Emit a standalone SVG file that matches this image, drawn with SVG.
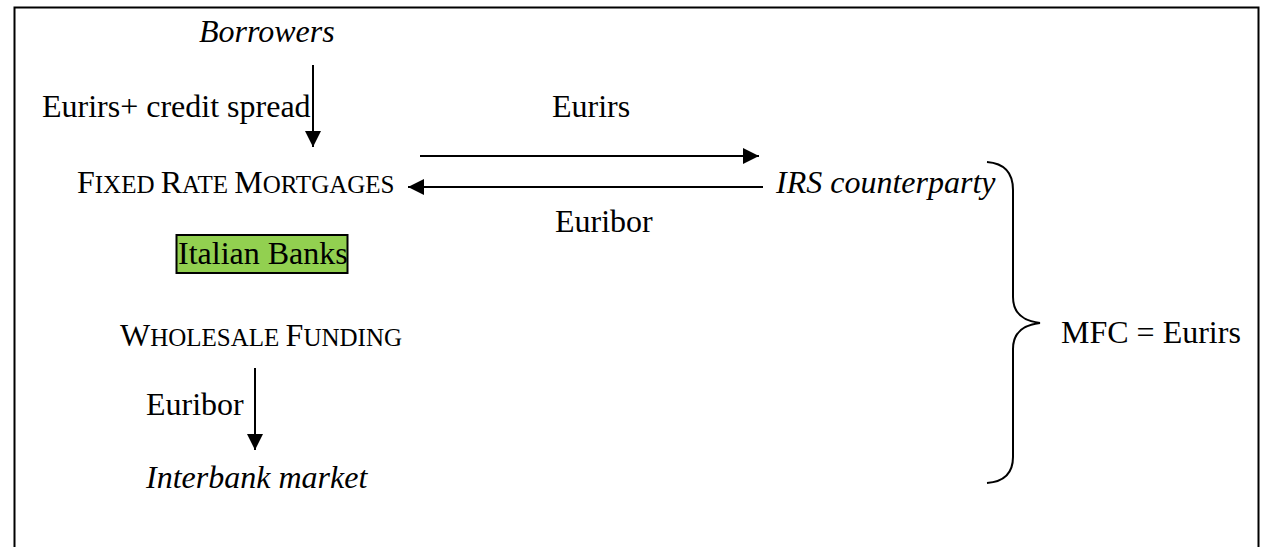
<svg xmlns="http://www.w3.org/2000/svg" width="1261" height="547" viewBox="0 0 1261 547">
<style>
text{font-family:"Liberation Serif","Times New Roman",serif;font-size:32px;fill:#000}
.it{font-style:italic}
.sc{font-size:25px}
.ln{stroke:#000;stroke-width:2;fill:none}
</style>
<defs>
<marker id="ah" viewBox="0 0 16 16" refX="16" refY="8" markerWidth="16" markerHeight="16" markerUnits="userSpaceOnUse" orient="auto">
<path d="M0,0 L16,8 L0,16 Z" fill="#000"/>
</marker>
</defs>
<rect x="14.5" y="7.5" width="1244" height="560" fill="#fff" stroke="#000" stroke-width="2"/>
<g id="borrowers"><text class="it" x="199" y="42">Borrowers</text></g>
<g id="fixed-rate-mortgages"><text x="77" y="193">F<tspan class="sc">IXED </tspan>R<tspan class="sc">ATE </tspan>M<tspan class="sc">ORTGAGES</tspan></text></g>
<g id="irs-counterparty"><text class="it" x="776" y="193">IRS counterparty</text></g>
<g id="italian-banks"><rect x="176.5" y="235" width="171" height="38" fill="#92D050" stroke="#000" stroke-width="2"/><text x="178" y="264">Italian Banks</text></g>
<g id="wholesale-funding"><text x="120" y="346">W<tspan class="sc">HOLESALE </tspan>F<tspan class="sc">UNDING</tspan></text></g>
<g id="interbank-market"><text class="it" x="146" y="488">Interbank market</text></g>
<g id="mfc"><text x="1061" y="343">MFC = Eurirs</text></g>
<g id="connectors">
<line class="ln" x1="313" y1="65" x2="313" y2="147" marker-end="url(#ah)"/>
<text x="42" y="117">Eurirs+ credit spread</text>
<line class="ln" x1="420" y1="156" x2="759" y2="156" marker-end="url(#ah)"/>
<text x="552" y="117">Eurirs</text>
<line class="ln" x1="763" y1="187" x2="408" y2="187" marker-end="url(#ah)"/>
<text x="555" y="232">Euribor</text>
<line class="ln" x1="255" y1="368" x2="255" y2="450" marker-end="url(#ah)"/>
<text x="146" y="415">Euribor</text>
<path class="ln" d="M987,162 Q1013,164 1013,190 L1013,297 Q1013,320 1040,323 Q1013,326 1013,349 L1013,457 Q1013,481 987,483"/>
</g>
</svg>
